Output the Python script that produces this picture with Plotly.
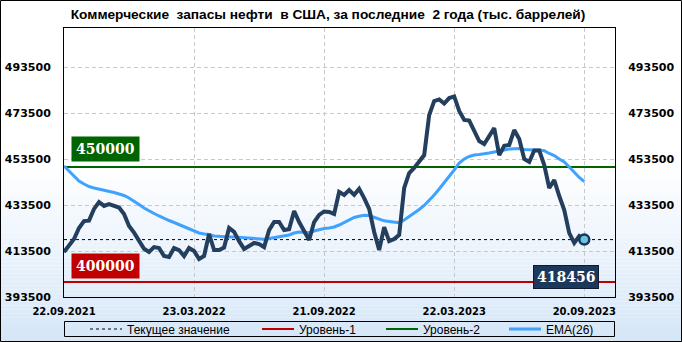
import plotly.graph_objects as go
import pandas as pd

# ---------------- data ----------------
start_date = "2021-09-22"
n_weeks = 105
dates = pd.date_range(start_date, periods=n_weeks, freq="7D")

stocks_k = [
    413.0, 415.7, 418.7, 423.5, 426.5, 426.7, 431.8, 434.8, 433.1, 433.9,
    433.3, 432.4, 429.6, 424.4, 421.5, 418.3, 414.5, 413.1, 415.2, 414.8,
    411.3, 410.9, 414.8, 413.9, 411.3, 414.8, 413.5, 410.0, 411.3, 420.9,
    413.9, 413.9, 415.0, 423.5, 421.8, 417.8, 414.4, 415.7, 417.0, 416.5,
    415.2, 422.6, 426.1, 426.1, 422.6, 423.0, 430.9, 426.1, 421.8, 418.3,
    426.1, 429.2, 430.7, 430.5, 429.6, 439.2, 437.9, 440.0, 437.9, 440.5,
    436.5, 431.8, 421.8, 413.9, 423.9, 417.8, 418.7, 420.5, 440.9, 447.4,
    449.6, 452.2, 455.2, 472.6, 478.7, 479.4, 477.6, 480.0, 480.7, 474.4,
    470.5, 470.2, 465.7, 461.3, 460.0, 463.1, 466.9, 455.2, 459.2, 459.6,
    466.1, 462.2, 453.5, 452.2, 457.2, 457.2, 450.9, 440.9, 444.3, 437.4,
    431.3, 421.3, 417.0, 420.0, 418.456,
]
ema26_k = [
    450.46, 448.28, 445.67, 443.93, 442.63, 441.54, 440.89, 440.46, 439.80, 439.37,
    438.93, 438.28, 437.63, 436.54, 435.24, 433.72, 432.20, 430.89, 429.80, 428.72,
    427.63, 426.76, 425.89, 425.02, 424.15, 423.28, 422.41, 421.33, 420.89, 420.67,
    420.02, 419.80, 419.72, 419.59, 419.59, 419.46, 419.37, 419.15, 419.02, 418.85,
    418.63, 418.93, 419.28, 419.72, 420.02, 420.46, 421.33, 421.76, 421.67, 421.46,
    422.20, 422.85, 423.28, 423.50, 423.93, 424.80, 425.89, 427.20, 428.07, 428.63,
    429.07, 428.93, 428.07, 427.20, 426.63, 426.33, 426.11, 425.80, 426.98, 428.50,
    429.80, 431.54, 433.28, 435.46, 437.85, 440.46, 443.07, 445.89, 448.72, 451.76,
    453.50, 454.59, 455.24, 455.46, 455.67, 456.11, 456.54, 457.11, 457.41, 457.85,
    458.07, 458.07, 457.63, 457.41, 457.41, 457.41, 457.07, 455.89, 455.02, 453.50,
    452.20, 450.02, 447.63, 445.46, 443.63,
]
stocks = [round(v * 1000) for v in stocks_k]
ema26 = [round(v * 1000) for v in ema26_k]

level1 = 400000
level2 = 450000
current_value = 418456

y_ticks = [393500, 413500, 433500, 453500, 473500, 493500]
x_tick_dates = ["2021-09-22", "2022-03-23", "2022-09-21", "2023-03-22", "2023-09-20"]
x_tick_labels = ["22.09.2021", "23.03.2022", "21.09.2022", "22.03.2023", "20.09.2023"]
x_range = ["2021-09-22", "2023-11-02"]
y_range = [393500, 510456]

title_text = "Коммерческие  запасы нефти  в США, за последние  2 года (тыс. баррелей)"
legend_names = ["Текущее значение", "Уровень-1", "Уровень-2", "EMA(26)"]

# ---------------- layout geometry (px) ----------------
W, H = 682, 342
ML, MR, MT, MB = 64, 67, 28, 45
PW, PH = W - ML - MR, H - MT - MB


def px_x(p):
    return (p - ML) / PW


def px_y(p):
    return (H - MB - p) / PH


NAVY = "#243e5e"
BLUE = "#3fa2ff"
GREEN = "#006400"
RED = "#c00000"

fig = go.Figure()

fig.add_trace(go.Scatter(
    x=x_range, y=[current_value, current_value], mode="lines",
    line=dict(color="black", width=1, dash="3px,3px"),
    name=legend_names[0], legend="legend", hoverinfo="skip"))
fig.add_trace(go.Scatter(
    x=x_range, y=[level1, level1], mode="lines",
    line=dict(color=RED, width=2), name=legend_names[1], legend="legend2",
    hoverinfo="skip"))
fig.add_trace(go.Scatter(
    x=x_range, y=[level2, level2], mode="lines",
    line=dict(color=GREEN, width=2), name=legend_names[2], legend="legend3",
    hoverinfo="skip"))
fig.add_trace(go.Scatter(
    x=dates, y=ema26, mode="lines",
    line=dict(color=BLUE, width=3), name=legend_names[3], legend="legend4"))
fig.add_trace(go.Scatter(
    x=dates, y=stocks, mode="lines",
    line=dict(color=NAVY, width=4, shape="linear"), showlegend=False,
    name="Запасы"))
fig.add_trace(go.Scatter(
    x=[dates[-1]], y=[stocks[-1]], mode="markers",
    marker=dict(size=10, color="#6cc3df", line=dict(color="#16365c", width=2.5)),
    showlegend=False, hoverinfo="skip"))
fig.add_trace(go.Scatter(
    x=[dates[-1]], y=[stocks[-1]], mode="markers", yaxis="y2",
    marker=dict(size=1, opacity=0), showlegend=False, hoverinfo="skip"))

# ---------------- shapes: gradient background, borders ----------------
shapes = []
g0, g1 = 165, H
nb = 44
top_col = (255, 255, 255)
bot_col = (214, 230, 247)
for i in range(nb):
    a = g0 + (g1 - g0) * i / nb
    b = g0 + (g1 - g0) * (i + 1) / nb
    t = (i + 0.5) / nb
    c = tuple(round(top_col[k] + (bot_col[k] - top_col[k]) * t) for k in range(3))
    shapes.append(dict(type="rect", xref="paper", yref="paper", layer="below",
                       x0=px_x(0), x1=px_x(W), y0=px_y(b), y1=px_y(a),
                       fillcolor="rgb(%d,%d,%d)" % c, line=dict(width=0)))
shapes.append(dict(type="rect", xref="paper", yref="paper", layer="above",
                   x0=px_x(64.5), x1=px_x(614.5), y0=px_y(336.5), y1=px_y(321.5),
                   line=dict(color="black", width=1), fillcolor="rgba(0,0,0,0)"))
shapes.append(dict(type="rect", xref="paper", yref="paper", layer="above",
                   x0=px_x(0.5), x1=px_x(W - 0.5), y0=px_y(H - 0.5), y1=px_y(0.5),
                   line=dict(color="black", width=1), fillcolor="rgba(0,0,0,0)"))

# ---------------- annotations ----------------
box_font = dict(family="DejaVu Serif", size=14, color="white", weight="bold")
annotations = [
    dict(text="450000", xref="paper", x=px_x(71), xanchor="left",
         yref="y", y=level2, yanchor="bottom", yshift=5, showarrow=False,
         bgcolor=GREEN, borderpad=4, font=box_font),
    dict(text="400000", xref="paper", x=px_x(71), xanchor="left",
         yref="y", y=level1, yanchor="bottom", yshift=3, showarrow=False,
         bgcolor=RED, borderpad=4, font=box_font),
    dict(text=f"{current_value}", xref="paper", x=px_x(599), xanchor="right",
         yref="paper", y=px_y(289), yanchor="bottom", showarrow=False,
         bgcolor="#1c395c", bordercolor="#0b1a2c", borderwidth=1, borderpad=3,
         font=box_font),
]

tick_font = dict(family="DejaVu Sans", size=11, color="black", weight="bold")
axis_common = dict(showline=True, linecolor="black", linewidth=1, zeroline=False,
                   gridcolor="#c8c8c8", griddash="4px,3px", gridwidth=1,
                   automargin=False)

leg_font = dict(family="Liberation Sans", size=12, color="black")
leg_y = px_y(329)
legend_x = [89, 261, 385, 508]


def leg(xp):
    return dict(orientation="h", x=px_x(xp - 4), xanchor="left", y=leg_y,
                yanchor="middle", bgcolor="rgba(0,0,0,0)", borderwidth=0,
                font=leg_font, itemwidth=32, tracegroupgap=0, itemclick=False)


fig.update_layout(
    width=W, height=H,
    margin=dict(l=ML, r=MR, t=MT, b=MB, pad=0, autoexpand=False),
    paper_bgcolor="white", plot_bgcolor="rgba(0,0,0,0)",
    title=dict(text=title_text, x=328 / W, xanchor="center", xref="container",
               y=1 - 14 / H, yanchor="middle", yref="container",
               font=dict(family="Liberation Sans", size=13.7, color="black", weight="bold")),
    xaxis=dict(type="date", range=x_range, tickvals=x_tick_dates, ticktext=x_tick_labels,
               ticks="outside", ticklen=5, tickcolor="rgba(0,0,0,0)", mirror=True,
               tickfont=dict(family="DejaVu Sans", size=10, color="black", weight="bold"),
               showgrid=True, **axis_common),
    yaxis=dict(range=y_range, tickvals=y_ticks, tickformat="d", ticks="outside",
               ticklen=10, tickcolor="rgba(0,0,0,0)", mirror=True, tickfont=tick_font,
               showgrid=True, **axis_common),
    yaxis2=dict(range=y_range, tickvals=y_ticks, tickformat="d", overlaying="y",
                side="right", ticks="outside", ticklen=10, tickcolor="rgba(0,0,0,0)",
                showgrid=False, showline=False, zeroline=False, tickfont=tick_font,
                automargin=False),
    legend=leg(legend_x[0]), legend2=leg(legend_x[1]),
    legend3=leg(legend_x[2]), legend4=leg(legend_x[3]),
    shapes=shapes, annotations=annotations,
    showlegend=True, hovermode=False,
)

fig.write_html("out.html")
